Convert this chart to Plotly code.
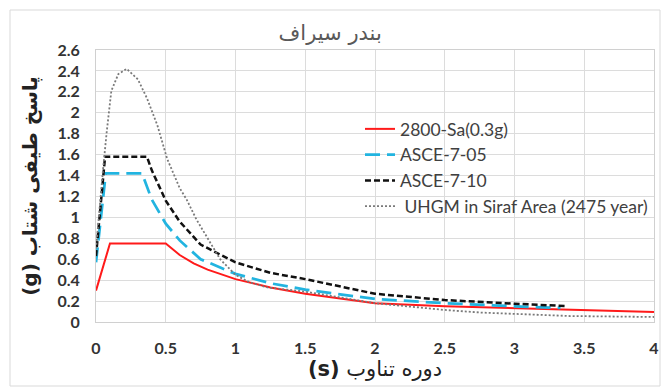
import plotly.graph_objects as go

# --- Data ---
t_2800 = [0, 0.1, 0.5, 0.6, 0.7, 0.8, 1.0, 1.25, 1.5, 2.0, 2.5, 3.0, 3.5, 4.0]
sa_2800 = [0.30, 0.75, 0.75, 0.64, 0.56, 0.50, 0.41, 0.33, 0.27, 0.18, 0.15, 0.13, 0.11, 0.095]

t_asce05 = [0, 0.07, 0.33, 0.4, 0.5, 0.6, 0.75, 1.0, 1.25, 1.5, 2.0, 2.5, 3.0, 3.33]
sa_asce05 = [0.57, 1.42, 1.42, 1.17, 0.94, 0.78, 0.60, 0.46, 0.37, 0.31, 0.22, 0.18, 0.15, 0.135]

t_asce10 = [0, 0.065, 0.365, 0.4, 0.5, 0.6, 0.75, 1.0, 1.25, 1.5, 2.0, 2.5, 3.0, 3.36]
sa_asce10 = [0.63, 1.58, 1.58, 1.45, 1.16, 0.96, 0.74, 0.57, 0.47, 0.41, 0.27, 0.21, 0.175, 0.153]

t_uhgm = [0, 0.03, 0.05, 0.077, 0.11, 0.16, 0.22, 0.3, 0.365, 0.44, 0.51, 0.6, 0.65, 0.72,
          0.8, 0.89, 1.0, 1.1, 1.23, 1.5, 2.0, 2.16, 2.5, 2.76, 3.05, 3.4, 4.0]
sa_uhgm = [0.70, 1.20, 1.45, 1.82, 2.21, 2.37, 2.42, 2.32, 2.14, 1.88, 1.56, 1.28, 1.17, 0.98,
           0.80, 0.60, 0.45, 0.38, 0.33, 0.29, 0.18, 0.16, 0.115, 0.09, 0.077, 0.057, 0.048]

x_ticks = [0, 0.5, 1, 1.5, 2, 2.5, 3, 3.5, 4]
y_ticks = [0, 0.2, 0.4, 0.6, 0.8, 1, 1.2, 1.4, 1.6, 1.8, 2, 2.2, 2.4, 2.6]

title_text = "بندر سیراف"
x_title = "<b>(s)</b> دوره تناوب"
y_title = "<b>(g) پاسخ طیفی شتاب</b>"

FONT = "Lato, DejaVu Sans, sans-serif"
AR_FONT = "DejaVu Sans, sans-serif"

fig = go.Figure()
fig.add_trace(go.Scatter(x=t_2800, y=sa_2800, mode="lines", name="2800-Sa(0.3g)",
                         line=dict(color="#FF1A1A", width=2)))
fig.add_trace(go.Scatter(x=t_asce05, y=sa_asce05, mode="lines", name="ASCE-7-05",
                         line=dict(color="#22B4E0", width=2.75, dash="15px,7px")))
fig.add_trace(go.Scatter(x=t_asce10, y=sa_asce10, mode="lines", name="ASCE-7-10",
                         line=dict(color="#111111", width=2.5, dash="6px,3px")))
fig.add_trace(go.Scatter(x=t_uhgm, y=sa_uhgm, mode="lines", name=" UHGM in Siraf Area (2475 year)",
                         line=dict(color="#7A7A7A", width=1.8, dash="2px,2px")))

W, H = 667, 391
ml, mr, mt, mb = 96, 13, 50, 69
pw, ph = W - ml - mr, H - mt - mb

fig.update_layout(
    width=W, height=H,
    margin=dict(l=ml, r=mr, t=mt, b=mb, autoexpand=False),
    paper_bgcolor="white", plot_bgcolor="white",
    font=dict(family=FONT, color="#404040"),
    title=dict(text=title_text, x=0.495, xref="container", xanchor="center",
               y=1 - 33 / H, yref="container", yanchor="middle", automargin=False,
               font=dict(size=21, color="#595959", family=AR_FONT)),
    showlegend=True,
    legend=dict(x=(360 - ml) / pw, y=1 - (111 - mt) / ph, xanchor="left", yanchor="top",
                bgcolor="rgba(255,255,255,0)", font=dict(size=17.5, color="#404040", family=FONT),
                tracegroupgap=0, itemwidth=30),
    xaxis=dict(range=[0, 4], tickvals=x_ticks, ticktext=[f"{v:g}" for v in x_ticks],
               showgrid=True, gridcolor="#DCDCDC", gridwidth=1, automargin=False,
               showline=True, linecolor="#D0D0D0", mirror=True, zeroline=False,
               tickfont=dict(size=16, color="#333333", family=FONT, weight="bold"),
               ticklabelstandoff=12,
               title=dict(text=x_title, standoff=4,
                          font=dict(size=21, color="#222222", family=AR_FONT))),
    yaxis=dict(range=[0, 2.6], tickvals=y_ticks, ticktext=[f"{v:g}" for v in y_ticks],
               showgrid=True, gridcolor="#DCDCDC", gridwidth=1, automargin=False,
               showline=True, linecolor="#D0D0D0", mirror=True, zeroline=False,
               tickfont=dict(size=16, color="#333333", family=FONT, weight="bold"),
               ticklabelstandoff=12,
               title=dict(text=y_title, standoff=14,
                          font=dict(size=20, color="#222222", family=AR_FONT))),
)

# Outer chart border (Excel-like)
fig.add_shape(type="rect", xref="paper", yref="paper",
              x0=(10 - ml) / pw, x1=(660 - ml) / pw,
              y0=-(386 - (H - mb)) / ph, y1=1 + (mt - 10) / ph,
              line=dict(color="#D9D9D9", width=1), layer="below")

fig.write_html("out.html", config={"displayModeBar": False},
               post_script="document.body.style.margin='0';document.body.style.overflow='hidden';")
